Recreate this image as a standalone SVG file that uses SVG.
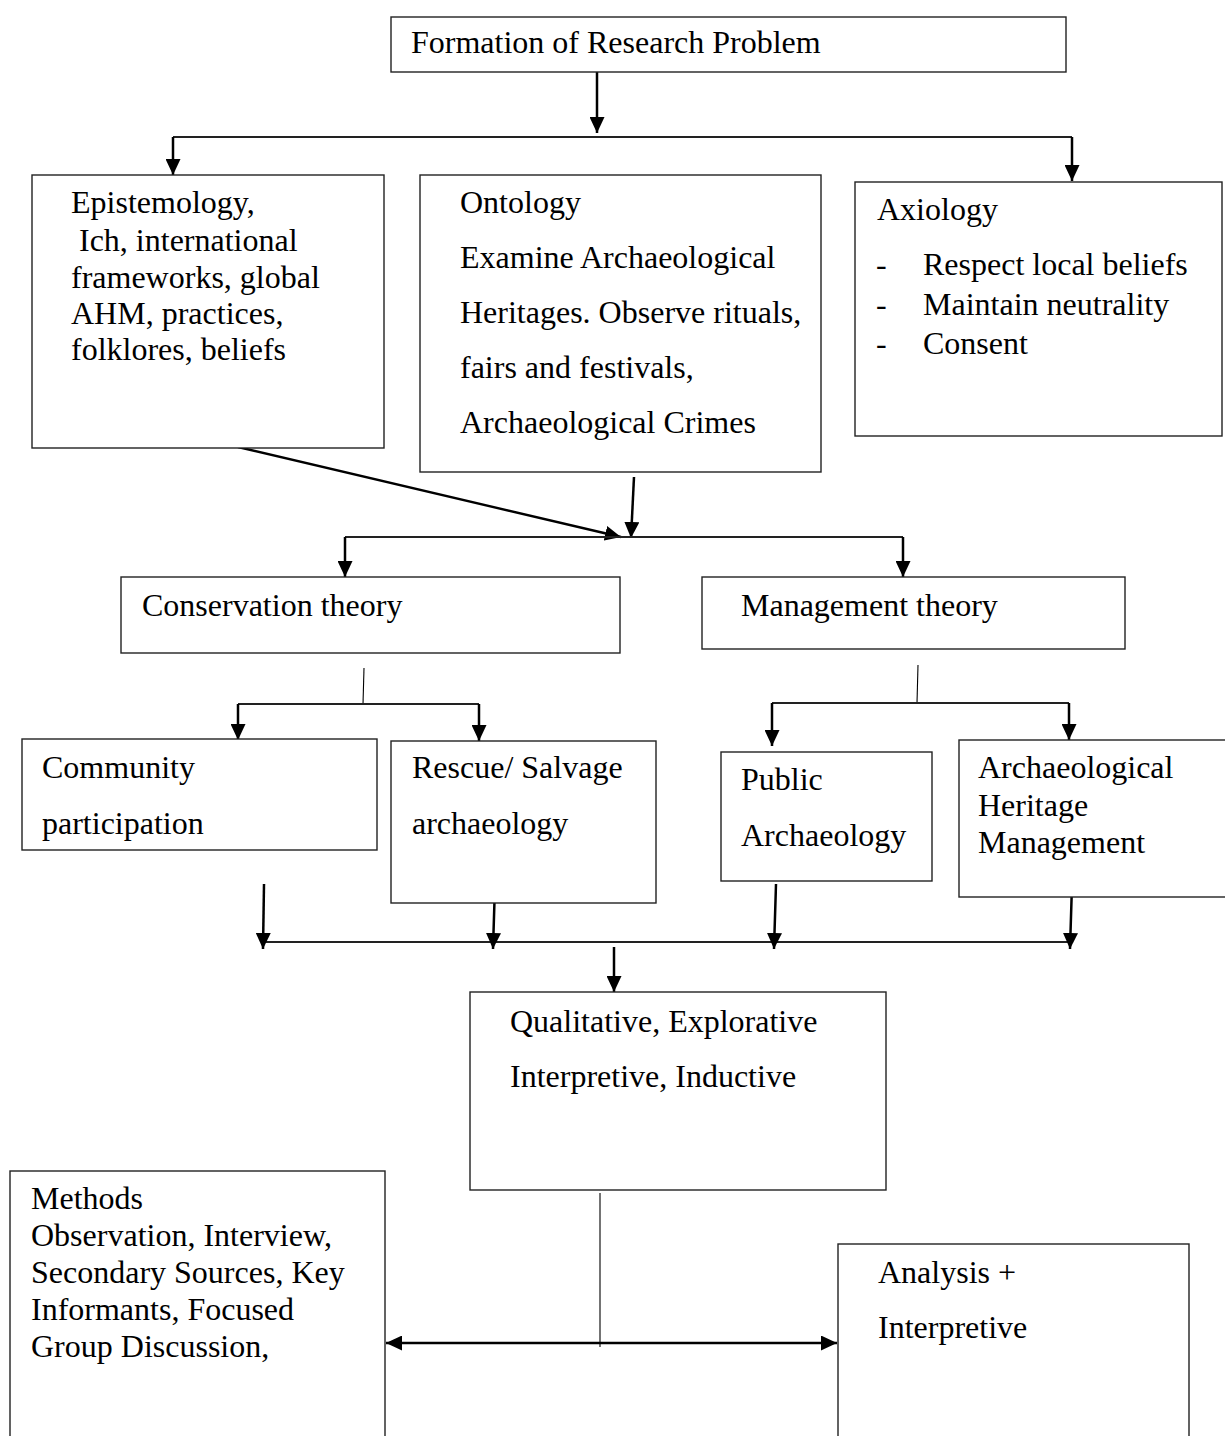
<svg xmlns="http://www.w3.org/2000/svg" width="1225" height="1436" viewBox="0 0 1225 1436">
<style>
  .box { fill: #fff; stroke: #222; stroke-width: 1.4; }
  .t { font-family: "Liberation Serif", "Times New Roman", serif; font-size: 32px; fill: #000; }
  .ln { stroke: #000; stroke-width: 2.5; fill: none; }
  .br { stroke: #222; stroke-width: 1.8; fill: none; }
  .thin { stroke: #000; stroke-width: 1.1; fill: none; }
</style>
<defs>
  <marker id="ah" markerWidth="16" markerHeight="15" refX="16" refY="7.5" orient="auto" markerUnits="userSpaceOnUse">
    <path d="M0,0 L16,7.5 L0,15 Z" fill="#000"/>
  </marker>
  <marker id="ah2" markerWidth="16" markerHeight="15" refX="16" refY="7.5" orient="auto-start-reverse" markerUnits="userSpaceOnUse">
    <path d="M0,0 L16,7.5 L0,15 Z" fill="#000"/>
  </marker>
</defs>
<rect width="1225" height="1436" fill="#fff"/>

<g id="connectors">
  <line class="ln" x1="597" y1="72" x2="597" y2="133" marker-end="url(#ah)"/>
  <line class="br" x1="173" y1="137" x2="1072" y2="137"/>
  <line class="ln" x1="173" y1="137" x2="173" y2="175" marker-end="url(#ah)"/>
  <line class="ln" x1="1072" y1="137" x2="1072" y2="181" marker-end="url(#ah)"/>
  <line class="ln" x1="238" y1="447" x2="621" y2="537" marker-end="url(#ah)"/>
  <line class="ln" x1="634" y1="477" x2="631" y2="538" marker-end="url(#ah)"/>
  <line class="br" x1="345" y1="537" x2="903" y2="537"/>
  <line class="ln" x1="345" y1="537" x2="345" y2="577" marker-end="url(#ah)"/>
  <line class="ln" x1="903" y1="537" x2="903" y2="577" marker-end="url(#ah)"/>
  <line class="thin" x1="364" y1="668" x2="363" y2="704"/>
  <line class="br" x1="238" y1="704" x2="479" y2="704"/>
  <line class="ln" x1="238" y1="704" x2="238" y2="740" marker-end="url(#ah)"/>
  <line class="ln" x1="479" y1="704" x2="479" y2="741" marker-end="url(#ah)"/>
  <line class="thin" x1="918" y1="665" x2="917" y2="703"/>
  <line class="br" x1="772" y1="703" x2="1069" y2="703"/>
  <line class="ln" x1="772" y1="703" x2="772" y2="746" marker-end="url(#ah)"/>
  <line class="ln" x1="1069" y1="703" x2="1069" y2="740" marker-end="url(#ah)"/>
  <line class="br" x1="263" y1="942" x2="1070" y2="942"/>
  <line class="ln" x1="264" y1="884" x2="263" y2="949" marker-end="url(#ah)"/>
  <line class="ln" x1="495" y1="884" x2="493" y2="949" marker-end="url(#ah)"/>
  <line class="ln" x1="776" y1="884" x2="774" y2="949" marker-end="url(#ah)"/>
  <line class="ln" x1="1072" y1="884" x2="1070" y2="949" marker-end="url(#ah)"/>
  <line class="ln" x1="614" y1="947" x2="614" y2="992" marker-end="url(#ah)"/>
  <line class="thin" x1="600" y1="1193" x2="600" y2="1347"/>
  <line class="ln" x1="386" y1="1343" x2="837" y2="1343" stroke-width="3" marker-start="url(#ah2)" marker-end="url(#ah2)"/>
</g>

<g id="node-formation">
  <rect class="box" x="391" y="17" width="675" height="55"/>
  <text class="t" x="411" y="53">Formation of Research Problem</text>
</g>

<g id="node-epistemology">
  <rect class="box" x="32" y="175" width="352" height="273"/>
  <text class="t" x="71" y="213">Epistemology,</text>
  <text class="t" x="71" y="251" xml:space="preserve"> Ich, international</text>
  <text class="t" x="71" y="288">frameworks, global</text>
  <text class="t" x="71" y="324">AHM, practices,</text>
  <text class="t" x="71" y="360">folklores, beliefs</text>
</g>

<g id="node-ontology">
  <rect class="box" x="420" y="175" width="401" height="297"/>
  <text class="t" x="460" y="213">Ontology</text>
  <text class="t" x="460" y="268">Examine Archaeological</text>
  <text class="t" x="460" y="323">Heritages. Observe rituals,</text>
  <text class="t" x="460" y="378">fairs and festivals,</text>
  <text class="t" x="460" y="433">Archaeological Crimes</text>
</g>

<g id="node-axiology">
  <rect class="box" x="855" y="182" width="367" height="254"/>
  <text class="t" x="877" y="220">Axiology</text>
  <text class="t" x="876" y="275">-</text>
  <text class="t" x="923" y="275">Respect local beliefs</text>
  <text class="t" x="876" y="315">-</text>
  <text class="t" x="923" y="315">Maintain neutrality</text>
  <text class="t" x="876" y="354">-</text>
  <text class="t" x="923" y="354">Consent</text>
</g>

<g id="node-conservation">
  <rect class="box" x="121" y="577" width="499" height="76"/>
  <text class="t" x="142" y="616">Conservation theory</text>
</g>

<g id="node-management">
  <rect class="box" x="702" y="577" width="423" height="72"/>
  <text class="t" x="741" y="616">Management theory</text>
</g>

<g id="node-community">
  <rect class="box" x="22" y="739" width="355" height="111"/>
  <text class="t" x="42" y="778">Community</text>
  <text class="t" x="42" y="834">participation</text>
</g>

<g id="node-rescue">
  <rect class="box" x="391" y="741" width="265" height="162"/>
  <text class="t" x="412" y="778">Rescue/ Salvage</text>
  <text class="t" x="412" y="834">archaeology</text>
</g>

<g id="node-public">
  <rect class="box" x="721" y="752" width="211" height="129"/>
  <text class="t" x="741" y="790">Public</text>
  <text class="t" x="741" y="846">Archaeology</text>
</g>

<g id="node-ahm">
  <rect class="box" x="959" y="740" width="270" height="157"/>
  <text class="t" x="978" y="778">Archaeological</text>
  <text class="t" x="978" y="816">Heritage</text>
  <text class="t" x="978" y="853">Management</text>
</g>

<g id="node-qualitative">
  <rect class="box" x="470" y="992" width="416" height="198"/>
  <text class="t" x="510" y="1032">Qualitative, Explorative</text>
  <text class="t" x="510" y="1087">Interpretive, Inductive</text>
</g>

<g id="node-methods">
  <rect class="box" x="10" y="1171" width="375" height="280"/>
  <text class="t" x="31" y="1209">Methods</text>
  <text class="t" x="31" y="1246">Observation, Interview,</text>
  <text class="t" x="31" y="1283">Secondary Sources, Key</text>
  <text class="t" x="31" y="1320">Informants, Focused</text>
  <text class="t" x="31" y="1357">Group Discussion,</text>
</g>

<g id="node-analysis">
  <rect class="box" x="838" y="1244" width="351" height="210"/>
  <text class="t" x="878" y="1283">Analysis +</text>
  <text class="t" x="878" y="1338">Interpretive</text>
</g>
</svg>
